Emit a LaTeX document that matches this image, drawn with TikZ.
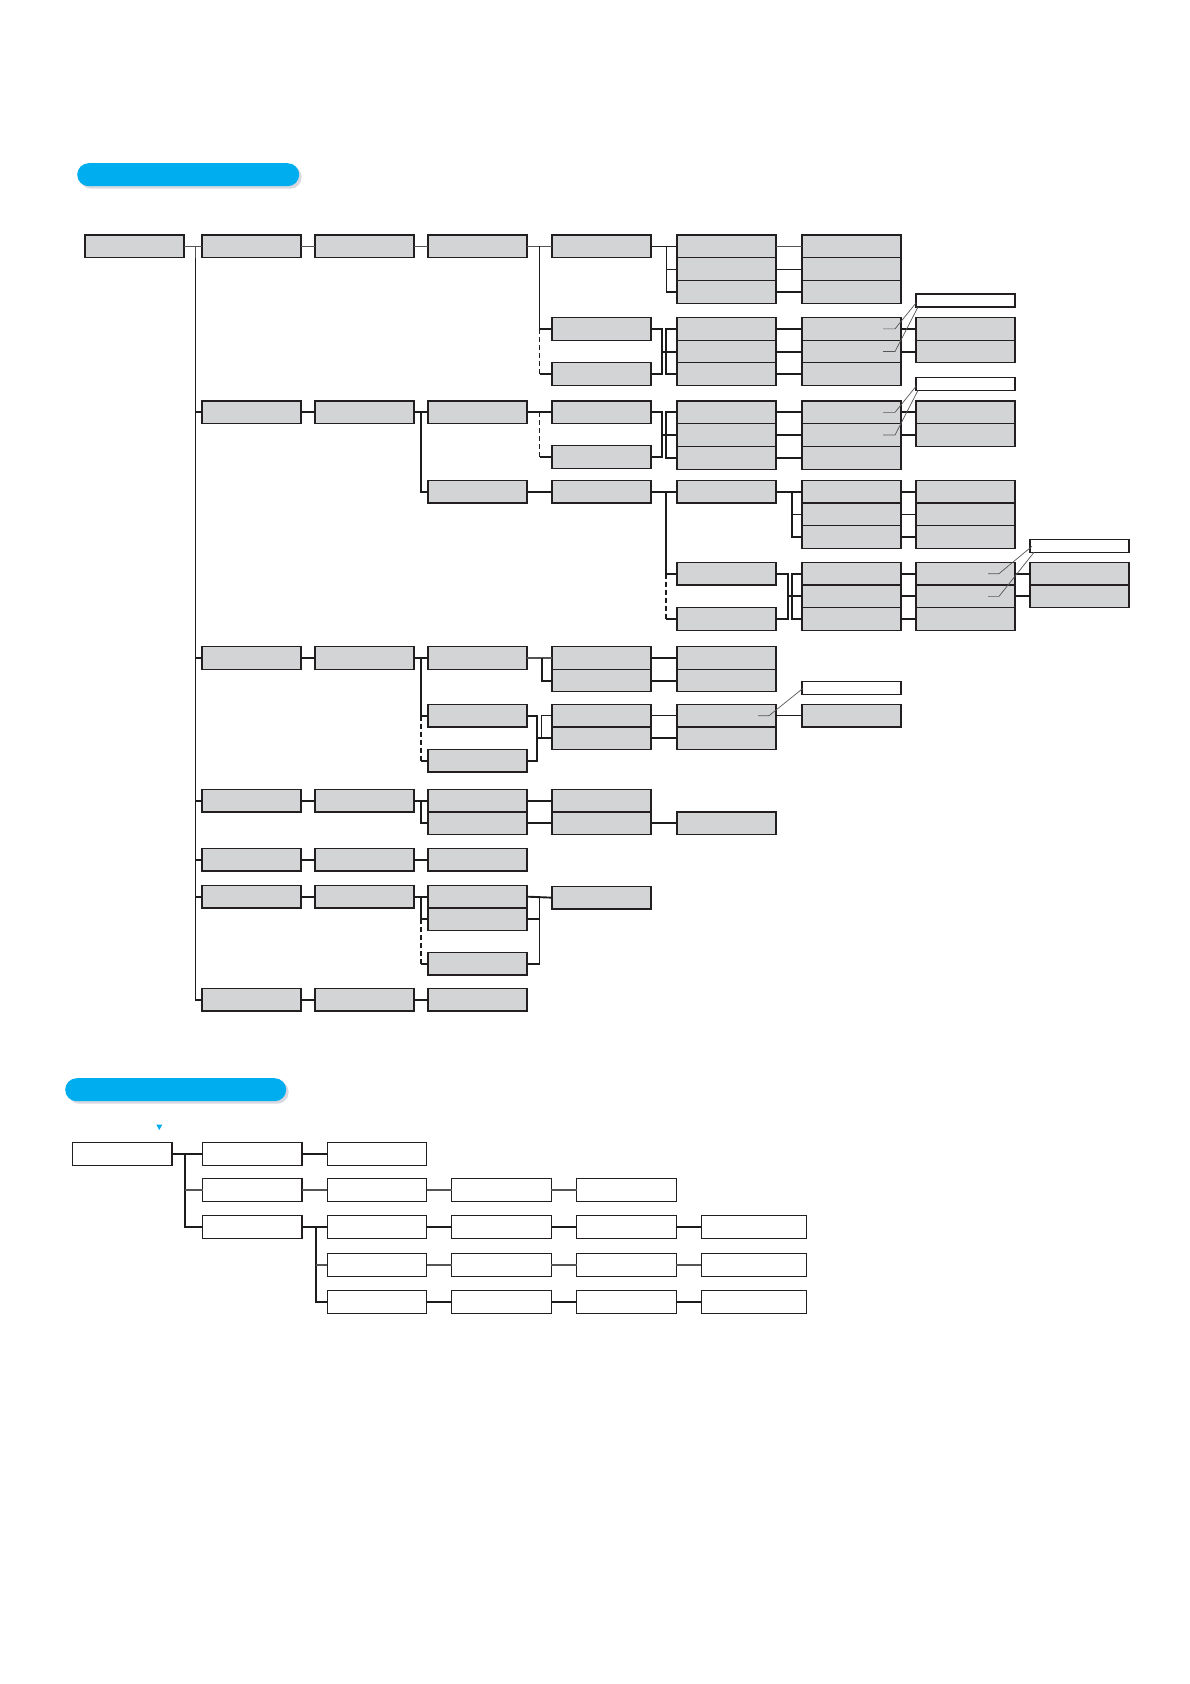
\documentclass[tikz,border=0pt]{standalone}
\usepackage{tikz}
\usetikzlibrary{calc}
\definecolor{MenuCyan}{RGB}{0,174,239}
\definecolor{MenuGrey}{RGB}{211,212,214}
\definecolor{MenuLine}{RGB}{35,31,32}
\definecolor{MenuWire}{RGB}{28,28,28}
\definecolor{MenuSoft}{RGB}{85,85,85}
\definecolor{MenuShade}{RGB}{216,216,224}

\begin{document}
\begin{tikzpicture}[x=1pt,y=-1pt,
    box/.style={draw=MenuLine,fill=MenuGrey,line width=1.1pt,minimum width=99pt,minimum height=22.7pt,inner sep=0pt,outer sep=0pt,anchor=north west},
    wbox/.style={box,fill=white,minimum width=99.5pt,minimum height=23pt},
    tag/.style={box,fill=white,minimum height=13pt},
    link/.style={MenuWire,line width=1.9pt},
    thinlink/.style={MenuWire,line width=0.9pt},
    greylink/.style={MenuSoft,line width=1.7pt},
    brokenline/.style={dash pattern=on 5pt off 3pt},
    lead/.style={MenuSoft,line width=0.7pt},
    pill/.style={fill=MenuCyan,rounded corners=11.5pt,minimum width=222pt,minimum height=23pt,inner sep=0pt,anchor=north west}]
        \useasboundingbox (0,0) rectangle (1190,1684);

        % headings
        \node[pill,fill=MenuShade] (head1s) at (79.5,165.5) {};
        \node[pill] (head1) at (77,163) {};
        \node[pill,fill=MenuShade,minimum width=221pt] (head2s) at (67.5,1080.5) {};
        \node[pill,minimum width=221pt] (head2) at (65,1078) {};
        \fill[MenuCyan] (156.3,1124.5) -- (162.3,1124.5) -- (159.3,1130) -- cycle;

        % bracket columns
        \coordinate (tr) at (195.5,0);
        \coordinate (k3) at (421,0);
        \coordinate (k4) at (539.5,0);
        \coordinate (k4a) at (536.7,0);
        \coordinate (k4b) at (541.7,0);
        \coordinate (k5a) at (662,0);
        \coordinate (k5) at (666,0);
        \coordinate (k6a) at (788,0);
        \coordinate (k6) at (792.4,0);

        % menu row 1
        \node[box] (root) at (85,235) {};
        \node[box] (m1) at (202,235) {};
        \node[box] (m1b) at (315,235) {};
        \node[box] (m1c) at (428,235) {};
        \node[box] (m1d) at (552,235) {};
        \foreach \k in {1,2,3} {
          \node[box] (m1e\k) at (677,{235+(\k-1)*22.7}) {};
          \node[box] (m1f\k) at (802,{235+(\k-1)*22.7}) {};
        }
        \node[box] (m1g) at (552,317.5) {};
        \node[box] (m1h) at (552,362.5) {};
        \foreach \k in {1,2,3} {
          \node[box] (m1i\k) at (677,{317.5+(\k-1)*22.7}) {};
          \node[box] (m1j\k) at (802,{317.5+(\k-1)*22.7}) {};
        }
        \foreach \k in {1,2} \node[box] (m1k\k) at (916,{317.5+(\k-1)*22.7}) {};
        \node[tag] (m1tag) at (916,294) {};

        % menu row 2
        \node[box] (m2) at (202,401) {};
        \node[box] (m2b) at (315,401) {};
        \node[box] (m2c) at (428,401) {};
        \node[box] (m2d) at (552,401) {};
        \node[box] (m2e) at (552,445.7) {};
        \foreach \k in {1,2,3} {
          \node[box] (m2f\k) at (677,{401+(\k-1)*22.7}) {};
          \node[box] (m2g\k) at (802,{401+(\k-1)*22.7}) {};
        }
        \foreach \k in {1,2} \node[box] (m2h\k) at (916,{401+(\k-1)*22.7}) {};
        \node[tag] (m2tag) at (916,377.3) {};
        \node[box] (m2i) at (428,480.3) {};
        \node[box] (m2j) at (552,480.3) {};
        \node[box] (m2k) at (677,480.3) {};
        \foreach \k in {1,2,3} {
          \node[box] (m2l\k) at (802,{480.3+(\k-1)*22.7}) {};
          \node[box] (m2m\k) at (916,{480.3+(\k-1)*22.7}) {};
        }
        \node[box] (m2n) at (677,562.3) {};
        \node[box] (m2o) at (677,607.6) {};
        \foreach \k in {1,2,3} {
          \node[box] (m2p\k) at (802,{562.3+(\k-1)*22.7}) {};
          \node[box] (m2q\k) at (916,{562.3+(\k-1)*22.7}) {};
        }
        \foreach \k in {1,2} \node[box] (m2r\k) at (1030,{562.3+(\k-1)*22.7}) {};
        \node[tag] (m2tagb) at (1030,539.3) {};

        % menu row 3
        \node[box] (m3) at (202,646.5) {};
        \node[box] (m3b) at (315,646.5) {};
        \node[box] (m3c) at (428,646.5) {};
        \foreach \k in {1,2} {
          \node[box] (m3d\k) at (552,{646.5+(\k-1)*22.7}) {};
          \node[box] (m3e\k) at (677,{646.5+(\k-1)*22.7}) {};
        }
        \node[box] (m3f) at (428,704.3) {};
        \node[box] (m3g) at (428,749.3) {};
        \foreach \k in {1,2} {
          \node[box] (m3h\k) at (552,{704.3+(\k-1)*22.7}) {};
          \node[box] (m3i\k) at (677,{704.3+(\k-1)*22.7}) {};
        }
        \node[box] (m3j) at (802,704.3) {};
        \node[tag] (m3tag) at (802,681.3) {};

        % menu rows 4 to 7
        \node[box] (m4) at (202,789.3) {};
        \node[box] (m4b) at (315,789.3) {};
        \foreach \k in {1,2} {
          \node[box] (m4c\k) at (428,{789.3+(\k-1)*22.7}) {};
          \node[box] (m4d\k) at (552,{789.3+(\k-1)*22.7}) {};
        }
        \node[box] (m4e) at (677,812) {};
        \node[box] (m5) at (202,848.3) {};
        \node[box] (m5b) at (315,848.3) {};
        \node[box] (m5c) at (428,848.3) {};
        \node[box] (m6) at (202,885.3) {};
        \node[box] (m6b) at (315,885.3) {};
        \node[box] (m6c) at (428,885.3) {};
        \node[box] (m6d) at (428,908) {};
        \node[box] (m6e) at (428,952.3) {};
        \node[box] (m6f) at (552,886.3) {};
        \node[box] (m7) at (202,988.3) {};
        \node[box] (m7b) at (315,988.3) {};
        \node[box] (m7c) at (428,988.3) {};

        % trunk and straight runs
        \draw[greylink] (root.east) -- (m1.west);
        \draw[greylink] (tr |- m1.west) -- (tr |- m1.south);
        \draw[link] (tr |- m1.south) -- (tr |- m7.west) -- (m7.west);
        \foreach \m in {m2,m3,m4,m5,m6} \draw[link] (tr |- \m.west) -- (\m.west);
        \foreach \a/\b in {m1/m1b,m1b/m1c,m1c/m1d}
          \draw[greylink] (\a.east) -- (\b.west);
        \foreach \a/\b in {m2/m2b,m3/m3b,m4/m4b,m5/m5b,m5b/m5c,m6/m6b,m7/m7b,m7b/m7c}
          \draw[link] (\a.east) -- (\b.west);

        % row 1 links
        \draw[link] (k4 |- m1d.west) |- (m1g.west);
        \draw[link,brokenline] (k4 |- m1g.west) -- (k4 |- m1h.west);
        \draw[link] (k4 |- m1h.west) -- (m1h.west);
        \draw[thinlink] (m1d.east) -- (m1e1.west);
        \draw[thinlink] (k5 |- m1e1.west) |- (m1e3.west);
        \draw[link] (k5 |- m1e3.west) -- (m1e3.west);
        \draw[thinlink] (k5 |- m1e2.west) -- (m1e2.west);
        \foreach \k/\s in {1/greylink,2/thinlink,3/link} \draw[\s] (m1e\k.east) -- (m1f\k.west);
        \draw[link] (m1g.east) -| (k5a |- m1h.east) -- (m1h.east);
        \draw[link] (k5a |- m1i2.west) -- (m1i2.west);
        \draw[link] (m1i1.west) -| (k5 |- m1i3.west) -- (m1i3.west);
        \foreach \k in {1,2,3} \draw[link] (m1i\k.east) -- (m1j\k.west);
        \foreach \k in {1,2} \draw[link] (m1j\k.east) -- (m1k\k.west);

        % row 2 links
        \draw[link] (m2b.east) -- (m2c.west);
        \draw[link] (k3 |- m2c.west) |- (m2i.west);
        \draw[link] (m2c.east) -- (m2d.west);
        \draw[link,brokenline] (k4 |- m2d.west) -- (k4 |- m2e.west);
        \draw[link] (k4 |- m2e.west) -- (m2e.west);
        \draw[link] (m2d.east) -| (k5a |- m2e.east) -- (m2e.east);
        \draw[link] (k5a |- m2f2.west) -- (m2f2.west);
        \draw[link] (m2f1.west) -| (k5 |- m2f3.west) -- (m2f3.west);
        \foreach \k in {1,2,3} \draw[link] (m2f\k.east) -- (m2g\k.west);
        \foreach \k in {1,2} \draw[link] (m2g\k.east) -- (m2h\k.west);
        \draw[link] (m2i.east) -- (m2j.west);
        \draw[link] (m2j.east) -- (m2k.west);
        \draw[link] (k5 |- m2k.west) |- (m2n.west);
        \draw[link,brokenline] (k5 |- m2n.west) -- (k5 |- m2o.west);
        \draw[link] (k5 |- m2o.west) -- (m2o.west);
        \draw[link] (m2k.east) -- (m2l1.west);
        \draw[link] (k6 |- m2l1.west) |- (m2l3.west);
        \draw[thinlink] (k6 |- m2l2.west) -- (m2l2.west);
        \foreach \k/\s in {1/link,2/thinlink,3/link} \draw[\s] (m2l\k.east) -- (m2m\k.west);
        \draw[link] (m2n.east) -| (k6a |- m2o.east) -- (m2o.east);
        \draw[link] (k6a |- m2p2.west) -- (m2p2.west);
        \draw[link] (m2p1.west) -| (k6 |- m2p3.west) -- (m2p3.west);
        \foreach \k in {1,2,3} \draw[link] (m2p\k.east) -- (m2q\k.west);
        \foreach \k in {1,2} \draw[link] (m2q\k.east) -- (m2r\k.west);

        % row 3 links
        \draw[link] (m3b.east) -- (m3c.west);
        \draw[link] (k3 |- m3c.west) |- (m3f.west);
        \draw[link,brokenline] (k3 |- m3f.west) -- (k3 |- m3g.west);
        \draw[link] (k3 |- m3g.west) -- (m3g.west);
        \draw[greylink] (m3c.east) -- (m3d1.west);
        \draw[link] (k4b |- m3d1.west) |- (m3d2.west);
        \foreach \k in {1,2} \draw[link] (m3d\k.east) -- (m3e\k.west);
        \draw[link] (m3f.east) -| (k4a |- m3g.east) -- (m3g.east);
        \draw[link] (k4a |- m3h2.west) -- (m3h2.west);
        \draw[thinlink] (m3h1.west) -| (k4b |- m3h2.west);
        \draw[thinlink] (m3h1.east) -- (m3i1.west);
        \draw[link] (m3h2.east) -- (m3i2.west);
        \draw[thinlink] (m3i1.east) -- (m3j.west);

        % rows 4 to 7 links
        \draw[link] (m4b.east) -- (m4c1.west);
        \draw[link] (k3 |- m4c1.west) |- (m4c2.west);
        \foreach \k in {1,2} \draw[link] (m4c\k.east) -- (m4d\k.west);
        \draw[link] (m4d2.east) -- (m4e.west);
        \draw[link] (m6b.east) -- (m6c.west);
        \draw[link] (k3 |- m6c.west) |- (m6d.west);
        \draw[link,brokenline] (k3 |- m6d.west) -- (k3 |- m6e.west);
        \draw[link] (k3 |- m6e.west) -- (m6e.west);
        \draw[link] (m6c.east) -- (m6f.west);
        \draw[link] (k4 |- m6c.east) |- (m6e.east);
        \draw[link] (k4 |- m6d.east) -- (m6d.east);

        % leaders to the white tags
        \foreach \t/\a/\b in {m1tag/m1j1/m1j2,m2tag/m2g1/m2g2} {
          \draw[lead] ($(\a.east)+(-18,0)$) -- ($(\a.east)+(-6,0)$) -- ($(\t.south west)+(0,-4)$);
          \draw[lead] ($(\b.east)+(-18,0)$) -- ($(\b.east)+(-6,0)$) -- ($(\t.south west)+(2,0)$);
        }
        \draw[lead] ($(m2q1.east)+(-27,0)$) -- ($(m2q1.east)+(-16,0)$) -- ($(m2tagb.south west)+(2,-6)$);
        \draw[lead] ($(m2q2.east)+(-27,0)$) -- ($(m2q2.east)+(-16,0)$) -- ($(m2tagb.south west)+(4,0)$);
        \draw[lead] ($(m3i1.east)+(-18,0)$) -- ($(m3i1.east)+(-7,0)$) -- ($(m3tag.south west)+(1,-6)$);

        % second menu
        \coordinate (tr2) at (185,0);
        \coordinate (k2) at (316,0);
        \node[wbox] (n0) at (72.5,1142.3) {};
        \foreach \r/\y/\cols in {1/1142.3/{1,2},2/1178.3/{1,2,3,4},3/1215.3/{1,2,3,4},4/1253.3/{2,3,4},5/1290.3/{2,3,4}} {
          \foreach \c in \cols
            \node[wbox] (q\r\c) at ({202.5+(\c-1)*124.7},\y) {};
        }
        \foreach \r/\y in {3/1215.3,4/1253.3,5/1290.3}
          \node[wbox,minimum width=105.5pt] (q\r5) at (701.3,\y) {};

        \draw[link] (n0.east) -- (q11.west);
        \draw[link] (tr2 |- q11.west) |- (q31.west);
        \draw[greylink] (tr2 |- q21.west) -- (q21.west);
        \draw[link] (q11.east) -- (q12.west);
        \foreach \c/\d in {1/2,2/3,3/4} \draw[greylink] (q2\c.east) -- (q2\d.west);
        \foreach \c/\d in {1/2,2/3,3/4,4/5} \draw[link] (q3\c.east) -- (q3\d.west);
        \draw[link] (k2 |- q32.west) |- (q52.west);
        \draw[greylink] (k2 |- q42.west) -- (q42.west);
        \foreach \c/\d in {2/3,3/4,4/5} {
          \draw[greylink] (q4\c.east) -- (q4\d.west);
          \draw[link] (q5\c.east) -- (q5\d.west);
        }
      \end{tikzpicture}
\end{document}
